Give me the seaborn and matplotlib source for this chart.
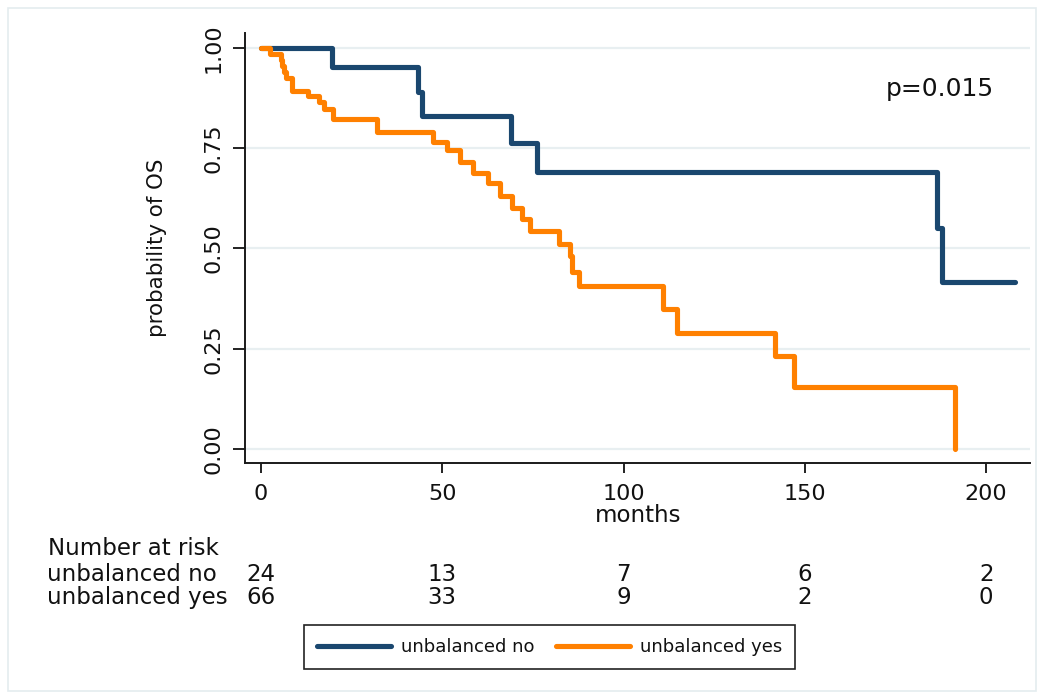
import numpy as np
import pandas as pd
import matplotlib
matplotlib.use("Agg")
import matplotlib.pyplot as plt
import seaborn as sns
from matplotlib.transforms import blended_transform_factory
from matplotlib.patches import Rectangle

# ---------------- data ----------------
groups = ["unbalanced no", "unbalanced yes"]

no_months = [0, 19.5, 43.4, 44.3, 68.9, 76.0, 186.5, 187.8, 208.0]
no_surv = [1.0, 0.952, 0.891, 0.830, 0.762, 0.691, 0.551, 0.417, 0.417]

yes_months = [0, 2.6, 5.4, 5.8, 6.3, 6.8, 8.6, 13.0, 16.1, 17.4, 19.9, 31.9,
              47.4, 51.2, 54.9, 58.4, 62.7, 65.9, 69.2, 71.9, 74.2, 82.3,
              85.2, 85.7, 87.8, 111.0, 114.8, 141.8, 147.1, 191.4]
yes_surv = [1.0, 0.985, 0.970, 0.955, 0.940, 0.925, 0.893, 0.879, 0.866, 0.847,
            0.823, 0.789, 0.766, 0.746, 0.716, 0.689, 0.663, 0.631, 0.600, 0.573,
            0.544, 0.511, 0.480, 0.442, 0.406, 0.348, 0.290, 0.232, 0.155, 0.0]

risk_times = [0, 50, 100, 150, 200]
risk_no = [24, 13, 7, 6, 2]
risk_yes = [66, 33, 9, 2, 0]

x_ticks = [0, 50, 100, 150, 200]
y_ticks = [0.0, 0.25, 0.50, 0.75, 1.00]
y_tick_labels = ["0.00", "0.25", "0.50", "0.75", "1.00"]
p_text = "p=0.015"
risk_header = "Number at risk"

colors = {"unbalanced no": "#1a476f", "unbalanced yes": "#ff8000"}

df = pd.concat([
    pd.DataFrame({"months": no_months, "surv": no_surv, "group": groups[0]}),
    pd.DataFrame({"months": yes_months, "surv": yes_surv, "group": groups[1]}),
], ignore_index=True)

# ---------------- style ----------------
sns.set_style("white")
plt.rcParams["font.family"] = ["DejaVu Sans"]
TXT = "#111111"

fig = plt.figure(figsize=(10.44, 6.99), dpi=100)
ax = fig.add_axes([0.2347, 0.3376, 0.7519, 0.6152])

sns.lineplot(data=df, x="months", y="surv", hue="group", hue_order=groups,
             palette=colors, estimator=None, sort=False, drawstyle="steps-post",
             lw=3.7, legend=False, ax=ax)

ax.set_xlim(-4.4, 212.1)
ax.set_ylim(-0.035, 1.037)
ax.set_xticks(x_ticks)
ax.set_yticks(y_ticks)
ax.set_yticklabels(y_tick_labels)
ax.yaxis.grid(True, color="#e8eff1", lw=1.6)
ax.xaxis.grid(False)
ax.set_axisbelow(True)

for s in ["top", "right"]:
    ax.spines[s].set_visible(False)
for s in ["left", "bottom"]:
    ax.spines[s].set_color("#1a1a1a")
    ax.spines[s].set_linewidth(1.4)

ax.tick_params(axis="y", direction="out", length=8.5, width=1.3, pad=7,
               labelsize=16, colors=TXT, left=True)
ax.tick_params(axis="x", direction="out", length=7, width=1.3, pad=8,
               labelsize=16, colors=TXT, bottom=True)
for lab in ax.get_yticklabels():
    lab.set_rotation(90)
    lab.set_va("center")

ax.set_xlabel("months", fontsize=16.5, color=TXT)
ax.xaxis.label.set_va("center")
ax.xaxis.set_label_coords(0.5006, -0.123)
ax.set_ylabel("probability of OS", fontsize=15.4, color=TXT)
ax.yaxis.label.set_va("center")
ax.yaxis.set_label_coords(-0.112, 0.5)

ax.text(187.3, 0.898, p_text, ha="center", va="center", fontsize=18,
        color=TXT)

# ---------------- number at risk table ----------------
trans = blended_transform_factory(ax.transData, fig.transFigure)
fig.text(0.046, 0.2146, risk_header, ha="left", va="center", fontsize=16.5,
         color=TXT)
row_y = [0.1774, 0.1459]
for label, counts, yy in zip(groups, [risk_no, risk_yes], row_y):
    fig.text(0.045, yy, label, ha="left", va="center", fontsize=16.5,
             color=TXT)
    for t, n in zip(risk_times, counts):
        ax.text(t, yy, str(n), transform=trans, ha="center", va="center",
                fontsize=16.5, color=TXT, clip_on=False)

# ---------------- legend ----------------
handles = ax.get_lines()[:2]
leg = fig.legend(handles, groups, loc="center", bbox_to_anchor=(0.5263, 0.0744),
                 ncol=2, fontsize=13, frameon=True, fancybox=False,
                 edgecolor="#222222", framealpha=1, handlelength=4.1,
                 handletextpad=0.55, columnspacing=1.2, borderpad=0.72)
leg.get_frame().set_linewidth(1.2)
for txt in leg.get_texts():
    txt.set_color(TXT)

# faint outer frame
fig.add_artist(Rectangle((0.0077, 0.0114), 0.9847, 0.977, transform=fig.transFigure,
                         fill=False, ec="#e4ecef", lw=1.2))

fig.savefig("out.png", dpi=100)
